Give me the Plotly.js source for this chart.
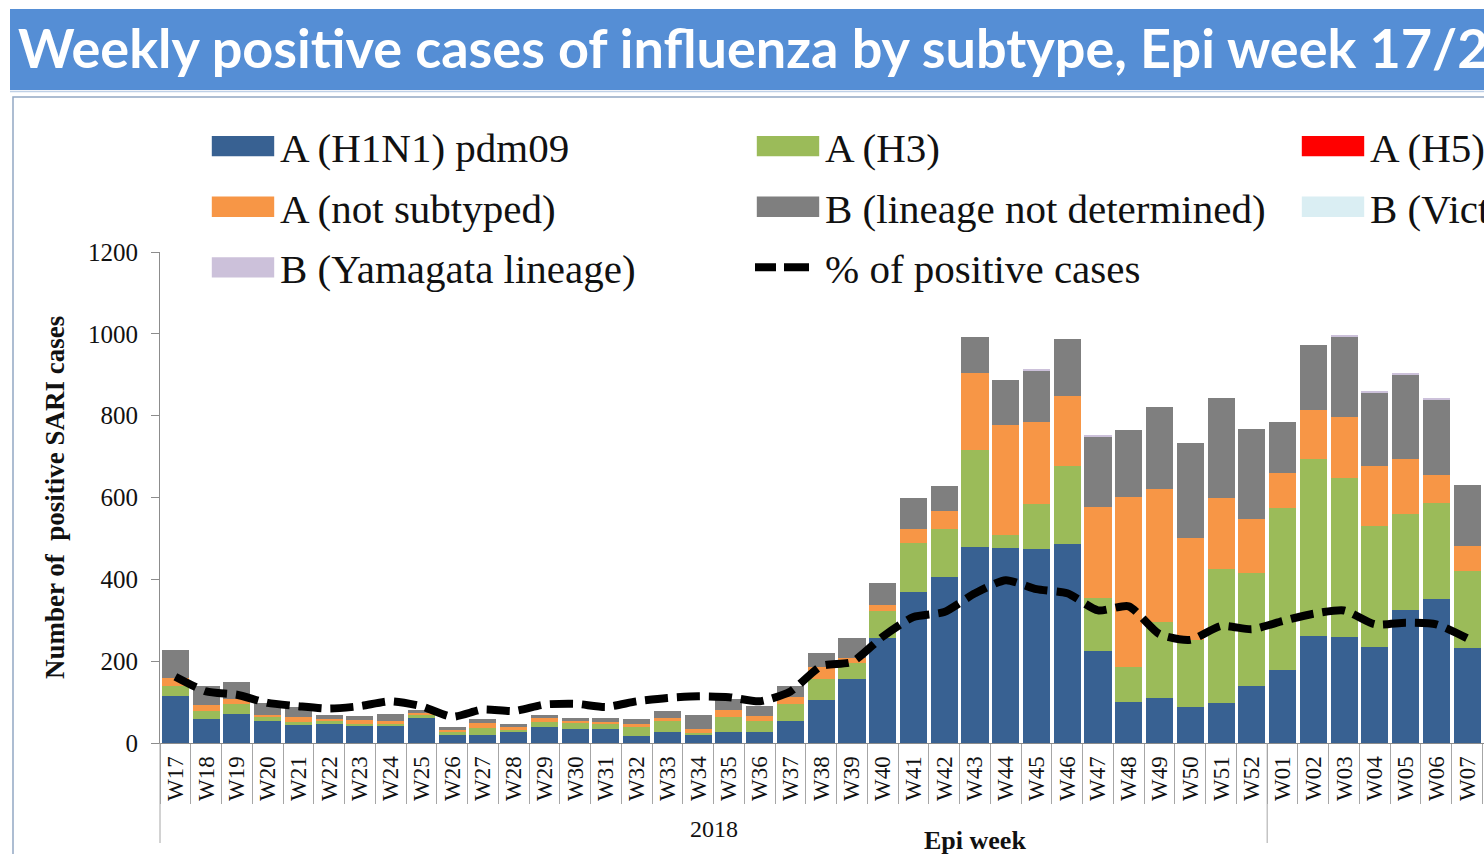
<!DOCTYPE html>
<html>
<head>
<meta charset="utf-8">
<script src="https://cdn.plot.ly/plotly-3.0.1.min.js"></script>
<style>
html,body{margin:0;padding:0;overflow:hidden;background:#fff;}
#chart{width:1850px;height:854px;}
.legendpoints path{transform:translate(33px,0px) scale(5.2,1.7);}
.legendlines path{transform:translate(-9px,0px); stroke-dasharray:25px,8px !important;}
</style>
</head>
<body>
<div id="chart"></div>
<script>
const weeks = ['W17','W18','W19','W20','W21','W22','W23','W24','W25','W26','W27','W28','W29','W30','W31','W32','W33','W34','W35','W36','W37','W38','W39','W40','W41','W42','W43','W44','W45','W46','W47','W48','W49','W50','W51','W52','W01','W02','W03','W04','W05','W06','W07'];

const h1n1     = [115,59,71,55,44,47,42,41,61,20,20,27,38,35,35,17,28,21,28,28,54,105,156,256,370,405,480,476,474,486,225,99,110,87,97,139,178,262,258,234,325,351,232];
const h3       = [24,19,24,8,7,6,4,5,7,7,16,5,14,13,13,23,27,4,35,27,41,51,39,67,118,117,235,32,109,192,130,86,186,165,328,276,396,432,389,297,234,235,189];
const h5       = [0,0,0,0,0,0,0,0,0,0,0,0,0,0,0,0,0,0,0,0,0,0,0,0,0,0,0,0,0,0,0,0,0,0,0,0,0,0,0,0,0,0,0];
const notSub   = [19,15,13,6,12,6,10,9,6,6,12,6,8,7,4,6,6,10,18,12,18,29,12,14,34,44,190,269,201,170,221,417,324,250,173,133,85,119,149,146,135,69,61];
const bNotDet  = [69,47,42,28,24,9,10,16,7,7,10,8,8,5,8,12,16,33,27,24,26,36,49,55,76,62,88,110,126,139,173,163,201,232,245,220,125,159,197,180,206,185,149];
const bVic     = [0,0,0,0,0,0,0,0,0,0,0,0,0,0,0,0,0,0,0,0,0,0,0,0,0,0,0,0,0,0,0,0,0,0,0,0,0,0,0,0,0,0,0];
const bYam     = [0,0,0,0,0,0,0,0,0,0,0,0,0,0,0,0,0,0,0,0,0,0,0,0,0,0,0,0,3,0,3,0,0,0,0,0,0,0,2,3,3,4,0];
const pctPos   = [8.1,6.3,5.9,4.9,4.5,4.2,4.5,5.1,4.5,3.2,4.1,3.9,4.7,4.8,4.4,5.1,5.5,5.7,5.6,5.1,6.3,9.4,9.9,13.0,15.4,16.0,18.3,19.9,18.8,18.3,16.2,16.7,13.3,12.6,14.3,13.9,14.9,15.8,16.2,14.5,14.7,14.5,12.8];

const FW = 1850, FH = 854, L = 160, T = 252, PW = 1630, PH = 491;
const px = v => (v - L) / PW;
const py = v => (T + PH - v) / PH;

function bar(name, y, color, legend, grp) {
  return {type:'bar', name:name, x:weeks, y:y, marker:{color:color},
          legend:legend, legendgroup:grp, hoverinfo:'x+y+name'};
}

const data = [
  bar('A (H1N1) pdm09', h1n1, '#386192', 'legend', 'g1'),
  bar('A (H3)', h3, '#9BBB59', 'legend2', 'g2'),
  bar('A (H5)', h5, '#FF0000', 'legend3', 'g3'),
  bar('A (not subtyped)', notSub, '#F79646', 'legend', 'g4'),
  bar('B (lineage not determined)', bNotDet, '#7F7F7F', 'legend2', 'g5'),
  bar('B (Victoria lineage)', bVic, '#DAEEF3', 'legend3', 'g6'),
  bar('B (Yamagata lineage)', bYam, '#CCC1DA', 'legend', 'g7'),
  {type:'scatter', mode:'lines', name:'% of positive cases', x:weeks, y:pctPos, yaxis:'y2',
   line:{color:'#000000', width:8, dash:'23px,9px', shape:'spline', smoothing:0.6},
   legend:'legend2', legendgroup:'g8'}
];

const legendBase = {xanchor:'left', yanchor:'top', y:py(113), font:{size:41, color:'#111'},
  itemwidth:60, tracegroupgap:4.3, traceorder:'grouped', bgcolor:'rgba(0,0,0,0)', borderwidth:0};

const layout = {
  width:FW, height:FH,
  margin:{l:L, r:FW-L-PW, t:T, b:FH-T-PH, autoexpand:false},
  paper_bgcolor:'#ffffff', plot_bgcolor:'#ffffff',
  barmode:'stack', bargap:0.12,
  font:{family:'"Liberation Serif","Times New Roman",serif', color:'#111'},
  title:{text:'<b>Weekly positive cases of influenza by subtype, Epi week 17/2018 - 17/2019</b>',
    xref:'container', yref:'container', x:18/FW, xanchor:'left', y:1-49/FH, yanchor:'middle',
    font:{family:'Lato,"Open Sans",sans-serif', size:54, color:'#ffffff'}},
  showlegend:true,
  legend:Object.assign({}, legendBase, {x:px(210)}),
  legend2:Object.assign({}, legendBase, {x:px(755)}),
  legend3:Object.assign({}, legendBase, {x:px(1300)}),
  xaxis:{type:'category', range:[-0.5, 52.5], tickson:'boundaries', ticks:'outside', ticklen:60,
    tickcolor:'#A6A6A6', tickwidth:1, showline:true, linecolor:'#8C8C8C', linewidth:1,
    tickangle:-90, tickfont:{size:23, color:'#111'}, ticklabelstandoff:3, showgrid:false, fixedrange:true},
  yaxis:{range:[0,1200], tick0:0, dtick:200, ticks:'outside', ticklen:8, tickcolor:'#8C8C8C',
    showline:true, linecolor:'#8C8C8C', linewidth:1, showgrid:false, zeroline:false,
    tickfont:{size:25, color:'#111'}, ticklabelstandoff:8,
    title:{text:'<b>Number of&nbsp; positive SARI cases</b>', font:{size:27, color:'#111'}, standoff:15}},
  yaxis2:{overlaying:'y', range:[0,60], visible:false},
  shapes:[
    {type:'rect', xref:'paper', yref:'paper', x0:px(10), x1:px(FW), y0:py(90), y1:py(9),
     fillcolor:'#558ED5', line:{width:0}, layer:'below'},
    {type:'line', xref:'paper', yref:'paper', x0:px(10), x1:px(FW), y0:py(91.5), y1:py(91.5),
     line:{color:'#BFD0E6', width:1.5}},
    {type:'rect', xref:'paper', yref:'paper', x0:px(13), x1:px(FW-5), y0:py(97), y1:py(FH+5),
     fillcolor:'rgba(0,0,0,0)', line:{color:'#93A8C4', width:1.5}, layer:'below'},
    {type:'line', xref:'paper', yref:'paper', x0:0, x1:0, y0:0, y1:py(843),
     line:{color:'#A6A6A6', width:1}},
    {type:'line', xref:'x', yref:'paper', x0:35.5, x1:35.5, y0:0, y1:py(843),
     line:{color:'#A6A6A6', width:1}}
  ],
  annotations:[
    {text:'2018', xref:'x', yref:'paper', x:17.5, y:py(829), showarrow:false,
     xanchor:'center', yanchor:'middle', font:{size:24, color:'#111'}},
    {text:'<b>Epi week</b>', xref:'paper', yref:'paper', x:0.5, y:py(840), showarrow:false,
     xanchor:'center', yanchor:'middle', font:{size:26, color:'#111'}}
  ]
};

Plotly.newPlot('chart', data, layout, {displayModeBar:false, responsive:false});
</script>
</body>
</html>
